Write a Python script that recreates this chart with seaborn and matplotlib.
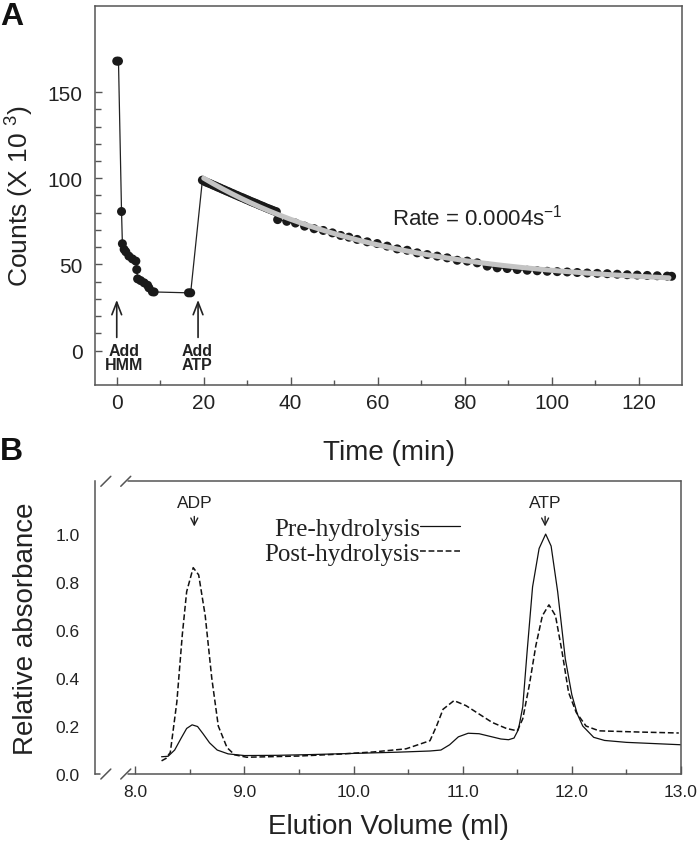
import matplotlib
matplotlib.use('Agg')
import matplotlib.pyplot as plt
from matplotlib.ticker import FixedLocator
import numpy as np
import pandas as pd
import seaborn as sns

# ---- panel A: counts vs time ----
time_early = [0.0, 0.4, 1.1, 1.3, 1.7, 2.1, 2.8, 3.6, 4.4, 4.6, 4.8, 5.5, 6.3, 7.1, 7.4, 8.2, 8.6, 16.5, 17.0]
counts_early = [168, 168, 80.7, 62, 58.7, 57.3, 54.8, 53.2, 51.9, 47.0, 41.6, 40.6, 39.3, 37.9, 36.4, 34.1, 34.0, 33.5, 33.5]

time_dense = [19.7, 20.2, 20.7, 21.2, 21.7, 22.2, 22.7, 23.2, 23.7, 24.2, 24.7, 25.2, 25.7, 26.2,
              26.7, 27.2, 27.7, 28.2, 28.7, 29.2, 29.7, 30.2, 30.7, 31.2, 31.7, 32.2, 32.7, 33.2,
              33.7, 34.2, 34.7, 35.2, 35.7, 36.2, 36.7]
counts_dense = [98.9, 98.2, 97.6, 97.1, 96.6, 96.0, 95.5, 94.9, 94.4, 93.8, 93.3, 92.7, 92.2, 91.6,
                91.1, 90.5, 90.0, 89.4, 88.9, 88.4, 87.8, 87.3, 86.7, 86.2, 85.7, 85.2, 84.6, 84.1,
                83.6, 83.0, 82.5, 82.0, 81.5, 81.0, 80.6]

time_late = [37.0, 39.1, 41.1, 43.2, 45.4, 47.5, 49.6, 51.5, 53.4, 55.3, 57.6, 59.9, 62.2, 64.5,
             66.8, 69.1, 71.4, 73.7, 76.0, 78.3, 80.6, 82.9, 85.2, 87.5, 89.8, 92.1, 94.4, 96.7,
             99.0, 101.3, 103.6, 105.9, 108.2, 110.5, 112.8, 115.1, 117.4, 119.7, 122.0, 124.3,
             126.6, 127.6]
counts_late = [76.0, 75.0, 74.0, 72.2, 70.7, 69.7, 68.3, 66.8, 65.8, 64.5, 63.1, 62.1, 60.6, 59.0,
               58.2, 56.7, 55.7, 54.8, 53.8, 52.4, 51.9, 50.9, 49.0, 48.0, 47.6, 47.0, 46.6, 46.3,
               46.0, 45.8, 45.6, 45.3, 45.0, 44.8, 44.6, 44.3, 44.0, 43.8, 43.6, 43.4, 43.2, 43.1]

rate_per_s = 0.0004

# ---- panel B: elution profiles ----
vol_pre = [8.24, 8.30, 8.36, 8.42, 8.47, 8.52, 8.57, 8.62, 8.68, 8.75, 8.85, 9.0, 9.3, 9.6, 10.0,
           10.4, 10.7, 10.8, 10.88, 10.96, 11.05, 11.15, 11.25, 11.35, 11.42, 11.47, 11.51, 11.55,
           11.59, 11.64, 11.70, 11.76, 11.81, 11.87, 11.94, 12.0, 12.05, 12.1, 12.2, 12.3, 12.5,
           12.8, 13.0]
abs_pre = [0.072, 0.074, 0.10, 0.15, 0.19, 0.205, 0.198, 0.168, 0.13, 0.10, 0.084, 0.077, 0.078,
           0.081, 0.086, 0.091, 0.096, 0.10, 0.122, 0.155, 0.17, 0.168, 0.157, 0.146, 0.143, 0.15,
           0.185, 0.28, 0.51, 0.78, 0.94, 1.0, 0.95, 0.76, 0.48, 0.33, 0.25, 0.20, 0.153, 0.14,
           0.132, 0.126, 0.122]

vol_post = [8.24, 8.28, 8.32, 8.38, 8.43, 8.47, 8.53, 8.58, 8.64, 8.70, 8.76, 8.84, 8.91, 9.02,
            9.5, 9.87, 10.18, 10.48, 10.70, 10.76, 10.82, 10.92, 11.03, 11.15, 11.27, 11.40, 11.50,
            11.55, 11.61, 11.67, 11.73, 11.79, 11.85, 11.91, 11.97, 12.04, 12.13, 12.25, 12.62, 12.98]
abs_post = [0.055, 0.065, 0.09, 0.30, 0.58, 0.76, 0.86, 0.83, 0.66, 0.40, 0.20, 0.11, 0.08, 0.07,
            0.075, 0.083, 0.092, 0.105, 0.139, 0.20, 0.27, 0.306, 0.285, 0.25, 0.215, 0.19, 0.18,
            0.23, 0.37, 0.535, 0.66, 0.705, 0.66, 0.51, 0.34, 0.257, 0.20, 0.18, 0.175, 0.171]

sns.set_style('ticks')
plt.rcParams['font.family'] = ['Liberation Sans', 'DejaVu Sans']
plt.rcParams['mathtext.default'] = 'regular'
txt = '#222222'
frame = '#555555'

fig = plt.figure(figsize=(6.98, 8.53), dpi=100)
axA = fig.add_axes([0.1361, 0.5475, 0.841, 0.4443])
axB = fig.add_axes([0.1361, 0.0914, 0.8395, 0.3432])

# panel A
df_a = pd.DataFrame({'t': time_early + time_dense + time_late,
                     'c': counts_early + counts_dense + counts_late})
sns.lineplot(data=df_a, x='t', y='c', sort=False, estimator=None, color='#222222',
             linewidth=0.9, ax=axA)
sns.scatterplot(data=df_a, x='t', y='c', color='#1a1a1a', s=42, edgecolor='none', ax=axA,
                zorder=3)

# single exponential fit with the reported rate (per minute), plateau + amplitude by least squares
fit_df = df_a[df_a['t'] >= 19.5]
k = rate_per_s * 60
basis = np.column_stack([np.ones(len(fit_df)), np.exp(-k * (fit_df['t'].values - 20))])
coef = np.linalg.lstsq(basis, fit_df['c'].values, rcond=None)[0]
t_fit = np.linspace(20, 127, 200)
c_fit = coef[0] + coef[1] * np.exp(-k * (t_fit - 20))
sns.lineplot(x=t_fit, y=c_fit, color='#c4c4c4', linewidth=3.6, ax=axA, zorder=4)

axA.set_xlim(-5, 130)
axA.set_ylim(-20, 200)
axA.set_xticks([0, 20, 40, 60, 80, 100, 120])
axA.xaxis.set_minor_locator(FixedLocator([10, 30, 50, 70, 90, 110]))
axA.set_yticks([0, 50, 100, 150])
axA.yaxis.set_minor_locator(FixedLocator([10, 20, 30, 40, 60, 70, 80, 90, 110, 120, 130, 140]))
axA.tick_params(which='both', direction='in', color=frame, width=1, labelcolor=txt)
axA.tick_params(axis='x', which='major', length=5.5, labelsize=15, pad=6)
axA.tick_params(axis='x', which='minor', length=3.5)
axA.tick_params(axis='y', which='both', length=5, labelsize=15, pad=9)
axA.tick_params(axis='y', which='minor', length=4.5)
axA.set_xlabel('Time (min)', fontsize=20, color=txt, labelpad=19)
axA.set_ylabel('Counts (X 10 $^{3}$)', fontsize=19, color=txt, labelpad=8)
for sp in axA.spines.values():
    sp.set_color(frame)
    sp.set_linewidth(1.1)

axA.text(63.4, 77.8, 'Rate = 0.0004s$^{-1}$', fontsize=16, color=txt, ha='left', va='center')
for xa, xt, lab in [(0, 1.6, 'Add\nHMM'), (18.7, 18.4, 'Add\nATP')]:
    axA.annotate('', xy=(xa, 31), xytext=(xa, 6),
                 arrowprops=dict(arrowstyle='->,head_length=0.9,head_width=0.35', color=txt, lw=1.2))
    axA.text(xt, 4.5, lab, fontsize=11.5, fontweight='bold', color=txt, ha='center', va='top',
             linespacing=0.95)

# panel B
sns.lineplot(x=vol_pre, y=abs_pre, sort=False, estimator=None, color='#111111', linewidth=0.9,
             ax=axB, label='Pre-hydrolysis')
sns.lineplot(x=vol_post, y=abs_post, sort=False, estimator=None, color='#111111', linewidth=1.1,
             ax=axB, label='Post-hydrolysis', dashes=False)
axB.lines[1].set_dashes((3.8, 1.8))

axB.set_xlim(7.63, 13.0)
axB.set_ylim(0, 1.22)
axB.set_xticks([8, 9, 10, 11, 12, 13])
axB.set_xticklabels(['8.0', '9.0', '10.0', '11.0', '12.0', '13.0'])
axB.xaxis.set_minor_locator(FixedLocator([8.5, 9.5, 10.5, 11.5, 12.5]))
axB.set_yticks([0, 0.2, 0.4, 0.6, 0.8, 1.0])
axB.set_yticklabels(['0.0', '0.2', '0.4', '0.6', '0.8', '1.0'])
axB.tick_params(which='both', direction='in', color=frame, width=1, labelcolor=txt)
axB.tick_params(axis='x', which='major', length=5.5, labelsize=12.5, pad=7)
axB.tick_params(axis='x', which='minor', length=3.5)
axB.tick_params(axis='y', length=0, labelsize=12.5, pad=11)
axB.set_xlabel('Elution Volume (ml)', fontsize=20, color=txt, labelpad=10)
axB.set_ylabel('Relative absorbance', fontsize=20, color=txt, labelpad=12)
for sp in axB.spines.values():
    sp.set_color(frame)
    sp.set_linewidth(1.1)
axB.spines['top'].set_visible(False)
axB.spines['bottom'].set_visible(False)

# broken axis marks
brk = dict(transform=axB.transAxes, clip_on=False, color=frame, linewidth=1.1)
axB.plot([0.057, 1.0], [1, 1], **brk)
axB.plot([0.057, 1.0], [0, 0], **brk)
axB.plot([0.0, 0.009], [0, 0], **brk)
for yb in (0, 1):
    for x0 in (0.010, 0.044):
        axB.plot([x0, x0 + 0.017], [yb - 0.017, yb + 0.017], **brk)

leg = axB.legend(loc='upper right', bbox_to_anchor=(0.623, 0.876), frameon=False,
                 markerfirst=False, handlelength=1.6, handletextpad=0.0, labelspacing=0.1,
                 borderpad=0, borderaxespad=0,
                 prop={'family': 'Liberation Serif', 'size': 18})
for t in leg.get_texts():
    t.set_color(txt)

for xp, lab in [(8.54, 'ADP'), (11.755, 'ATP')]:
    axB.text(xp, 1.13, lab, fontsize=12.5, color=txt, ha='center', va='center')
    axB.annotate('', xy=(xp, 1.02), xytext=(xp, 1.085),
                 arrowprops=dict(arrowstyle='->,head_length=0.5,head_width=0.25', color=txt, lw=1.0))

fig.text(0.0, 0.998, 'A', fontsize=23, fontweight='bold', color='#111111', ha='left', va='top')
fig.text(0.0, 0.488, 'B', fontsize=23, fontweight='bold', color='#111111', ha='left', va='top')

fig.savefig('out.png', dpi=100)
